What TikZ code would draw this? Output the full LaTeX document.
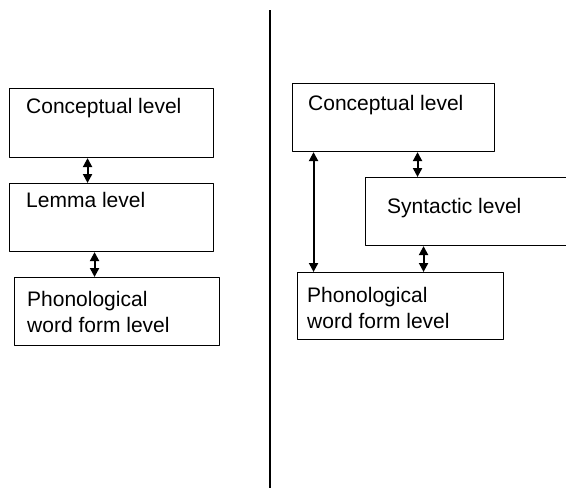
\documentclass[tikz,border=0pt]{standalone}
\usepackage{fontspec}
\setmainfont{Liberation Sans}
\usetikzlibrary{arrows.meta}
\begin{document}
\begin{tikzpicture}[x=1pt,y=-1pt,line join=round,>={Triangle[length=9pt,width=9pt]},
	font=\fontsize{21}{26}\selectfont,
	box/.style={draw,line width=1.1pt,anchor=north west,inner sep=0pt,minimum height=68pt},
	txt/.style={anchor=base west,align=left,inner sep=0pt},
	dlink/.style={draw,<->,line width=2pt}]
	
	\useasboundingbox (0,0) rectangle (566,488);
	
	% left column
	\node[box,minimum width=204pt,minimum height=69pt] (lcon) at (9,88) {};
	\node[box,minimum width=204pt] (llem) at (9,183) {};
	\node[box,minimum width=205pt] (lpho) at (14,277) {};
	\node[txt] (lcont) at (26,113) {Conceptual level};
	\node[txt] (llemt) at (26,207) {Lemma level};
	\node[txt] (lphot) at (27,332) {Phonological\\word form level};
	
	\coordinate (a1) at ([xshift=-24pt]lcon.south);
	\coordinate (a2) at ([xshift=-17pt]llem.south);
	\path[dlink] (a1) -- (a1 |- llem.north);
	\path[dlink] (a2) -- (a2 |- lpho.north);
	
	% divider
	\draw[line width=1.6pt] (270,10) -- (270,490);
	
	% right column
	\node[box,minimum width=202pt] (rcon) at (292,83) {};
	\node[box,minimum width=204pt] (rsyn) at (365,177) {};
	\node[box,minimum width=206pt,minimum height=67pt] (rpho) at (297,272) {};
	\node[txt] (rcont) at (308,110) {Conceptual level};
	\node[txt] (rsynt) at (387,213) {Syntactic level};
	\node[txt] (rphot) at (307,328) {Phonological\\word form level};
	
	\coordinate (b1) at ([xshift=24pt]rcon.south);
	\coordinate (b2) at ([xshift=-44pt]rsyn.south);
	\coordinate (b3) at ([xshift=-80pt]rcon.south);
	\path[dlink] (b1) -- (b1 |- rsyn.north);
	\path[dlink] (b2) -- (b2 |- rpho.north);
	\path[dlink] (b3) -- (b3 |- rpho.north);
\end{tikzpicture}
\end{document}
